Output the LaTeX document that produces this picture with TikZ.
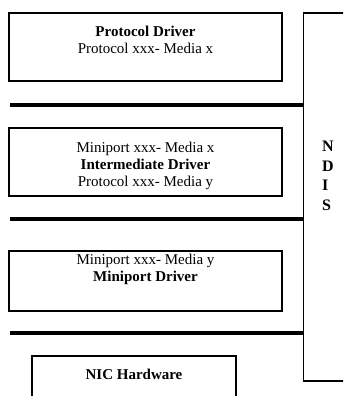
\documentclass[tikz,border=0pt]{standalone}
\usepackage{fontspec}
\setmainfont{Liberation Serif}
\usetikzlibrary{positioning}

\begin{document}
\begin{tikzpicture}[x=1pt, y=-1pt,
    layer/.style={rectangle, draw=black, line width=1.3pt, inner sep=0pt, minimum width=273pt},
    txt/.style={align=center, inner sep=0pt, font=\fontsize{15}{17}\selectfont},
    bus/.style={line width=3.5pt}]
    \useasboundingbox (0,0) rectangle (343,396);
    \clip (0,0) rectangle (343,396);

    \node (proto) at (145.5,47) [layer, minimum height=68pt] {};
    \node (inter) at (145.5,162) [layer, minimum height=68pt] {};
    \node (mini) at (145.5,281) [layer, minimum height=60pt] {};
    \node (nic) at (134,383) [layer, minimum width=204pt, minimum height=54pt] {};
    \node (ndis) at (332,197) [rectangle, draw=black, line width=1.3pt, inner sep=0pt,
        minimum width=57pt, minimum height=368pt] {};

    \node (protot) [txt, below=13.5pt of proto.north] {\textbf{Protocol Driver}\\Protocol xxx- Media x};
    \node (intert) [txt, below=15pt of inter.north] {Miniport xxx- Media x\\\textbf{Intermediate Driver}\\Protocol xxx- Media y};
    \node (minit) [txt, below=4pt of mini.north] {Miniport xxx- Media y\\\textbf{Miniport Driver}};
    \node (nict) [txt, below=14pt of nic.north] {\textbf{NIC Hardware}};
    \node (ndist) at (322,176) [anchor=west, align=left, inner sep=0pt,
        font=\fontsize{16}{19.5}\selectfont\bfseries] {N\\D\\I\\S};

    % the three bus lines run into the NDIS block
    \coordinate (bus1) at (10,105);
    \coordinate (bus2) at (10,219);
    \coordinate (bus3) at (10,333);
    \draw[bus] (bus1) -- (bus1 -| ndis.west);
    \draw[bus] (bus2) -- (bus2 -| ndis.west);
    \draw[bus] (bus3) -- (bus3 -| ndis.west);
\end{tikzpicture}
\end{document}
